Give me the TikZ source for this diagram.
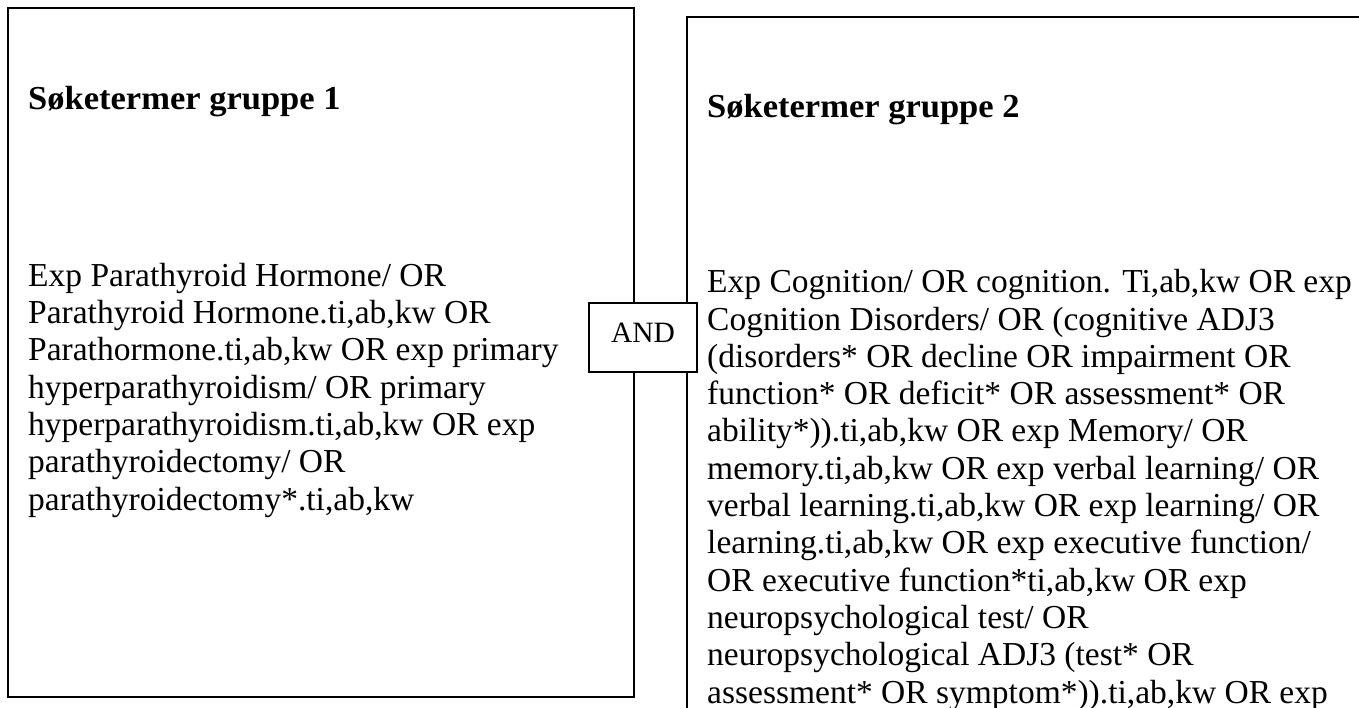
\documentclass[tikz,border=0pt]{standalone}
\usepackage{fontspec}
\setmainfont{Liberation Serif}
\usetikzlibrary{positioning}
\tikzset{
    boks/.style={draw=black, line width=1.5pt},
    tekst/.style={anchor=base west, align=left, inner sep=0pt, font=\fontsize{33.5}{37.3}\selectfont},
    overskrift/.style={anchor=base west, inner sep=0pt, font=\fontsize{33.5}{37.3}\selectfont\bfseries\addfontfeature{FakeStretch=1.03}},
    ogboks/.style={draw=black, line width=1.5pt, fill=white, minimum width=108pt, minimum height=69pt, inner sep=0pt, text depth=9pt, font=\fontsize{29.5}{36}\selectfont}
}

\begin{document}
\begin{tikzpicture}[x=1pt, y=-1pt]
    \useasboundingbox (0, 0) rectangle (1359, 708);
    \clip (0, 0) rectangle (1359, 708);
    \fill[white] (0, 0) rectangle (1359, 708);

    % gruppe 1 (base = siste linje)
    \draw[boks] (8, 8) rectangle (634, 697);
    \node[overskrift] (over1) at (28, 110) {Søketermer gruppe 1};
    \node[tekst] (sok1) at (28, 510) {Exp Parathyroid Hormone/ OR\\
        Parathyroid Hormone.ti,ab,kw OR\\
        Parathormone.ti,ab,kw OR exp primary\\
        hyperparathyroidism/ OR primary\\
        hyperparathyroidism.ti,ab,kw OR exp\\
        parathyroidectomy/ OR\\
        parathyroidectomy*.ti,ab,kw};

    % gruppe 2, går ut over kanten
    \draw[boks] (687, 17) rectangle (1420, 760);
    \node[overskrift] (over2) at (707, 118) {Søketermer gruppe 2};
    \node[tekst] (sok2) at (707, 703) {Exp Cognition/ OR cognition. Ti,ab,kw OR exp\\
        Cognition Disorders/ OR (cognitive ADJ3\\
        (disorders* OR decline OR impairment OR\\
        function* OR deficit* OR assessment* OR\\
        ability*)).ti,ab,kw OR exp Memory/ OR\\
        memory.ti,ab,kw OR exp verbal learning/ OR\\
        verbal learning.ti,ab,kw OR exp learning/ OR\\
        learning.ti,ab,kw OR exp executive function/\\
        OR executive function*ti,ab,kw OR exp\\
        neuropsychological test/ OR\\
        neuropsychological ADJ3 (test* OR\\
        assessment* OR symptom*)).ti,ab,kw OR exp};

    % AND mellom boksene
    \node[ogboks] (og) at (643, 337.5) {AND};
\end{tikzpicture}
\end{document}
